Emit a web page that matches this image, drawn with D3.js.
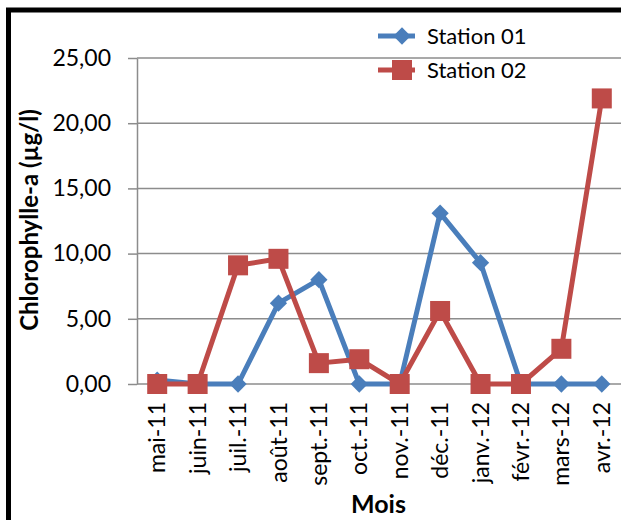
<!DOCTYPE html>
<html>
<head>
<meta charset="utf-8">
<script src="https://cdn.jsdelivr.net/npm/d3@7"></script>
<style>
  html, body { margin: 0; padding: 0; background: #fff; }
  svg { display: block; font-family: Lato, "Noto Sans", sans-serif; }
</style>
</head>
<body>
<svg id="chart" width="621" height="520"></svg>
<script>
// Monthly chlorophyll-a concentrations at two stations
const months = ["mai-11", "juin-11", "juil.-11", "août-11", "sept.-11", "oct.-11",
                "nov.-11", "déc.-11", "janv.-12", "févr.-12", "mars-12", "avr.-12"];
const station01 = [0.3, 0, 0, 6.2, 8.0, 0, 0, 13.1, 9.3, 0, 0, 0];
const station02 = [0, 0, 9.1, 9.6, 1.6, 1.9, 0, 5.6, 0, 0, 2.7, 21.9];
const yTicks = [0, 5, 10, 15, 20, 25];
const seriesNames = ["Station 01", "Station 02"];

const svg = d3.select("#chart");
const W = 621, H = 520;
const plotLeft = 137, plotTop = 58, plotRight = 622, plotBottom = 384;
const FONT = "Lato, 'Noto Sans', sans-serif";

// outer frame
svg.append("rect")
  .attr("x", 8.5).attr("y", 10).attr("width", W + 20).attr("height", H + 20)
  .attr("fill", "none").attr("stroke", "#000").attr("stroke-width", 5);

const x = d3.scaleBand().domain(months).range([plotLeft, plotRight]);
const y = d3.scaleLinear().domain([0, 25]).range([plotBottom, plotTop]);
const fmt = v => d3.format(".2f")(v).replace(".", ",");

// horizontal gridlines
svg.append("g").selectAll("line").data(yTicks.filter(t => t > 0)).join("line")
  .attr("x1", plotLeft).attr("x2", W)
  .attr("y1", d => y(d)).attr("y2", d => y(d))
  .attr("stroke", "#8c8c8c").attr("stroke-width", 1.5);

// y axis
const yAxis = svg.append("g").attr("transform", `translate(${plotLeft},0)`)
  .call(d3.axisLeft(y).tickValues(yTicks).tickFormat(fmt).tickSize(9).tickSizeOuter(0).tickPadding(17));
yAxis.select(".domain").attr("stroke", "#8c8c8c").attr("stroke-width", 1.5);
yAxis.selectAll(".tick line").attr("stroke", "#8c8c8c").attr("stroke-width", 1.5);
yAxis.selectAll(".tick text").attr("font-size", 23).attr("fill", "#000")
  .attr("font-family", FONT);

// x axis
const xAxis = svg.append("g").attr("transform", `translate(0,${plotBottom})`)
  .call(d3.axisBottom(x).tickSize(0).tickSizeOuter(0));
xAxis.select(".domain").attr("stroke", "#8c8c8c").attr("stroke-width", 1.5)
  .attr("d", `M${plotLeft},0H${W}`);
xAxis.selectAll(".tick text")
  .attr("font-size", 23).attr("fill", "#000")
  .attr("font-family", FONT)
  .attr("transform", "rotate(-90)")
  .attr("text-anchor", "end")
  .attr("x", -18).attr("y", 0).attr("dy", "0.35em");

// axis titles
svg.append("text")
  .attr("transform", `translate(38,${(plotTop + plotBottom) / 2 - 1}) rotate(-90)`)
  .attr("text-anchor", "middle").attr("font-weight", "bold").attr("font-size", 24)
  .text("Chlorophylle-a (µg/l)");
svg.append("text")
  .attr("x", (plotLeft + plotRight) / 2 - 1).attr("y", 513)
  .attr("text-anchor", "middle").attr("font-weight", "bold").attr("font-size", 25)
  .text("Mois");

const cx = m => x(m) + x.bandwidth() / 2;
const line = d3.line().x((d, i) => cx(months[i])).y(d => y(d));
const blue = "#4a7ebb", red = "#be4b48";
const diamond = d3.symbol().type(d3.symbolDiamond2).size(190);

function drawSeries(values, color, marker) {
  const g = svg.append("g");
  g.append("path").datum(values).attr("d", line)
    .attr("fill", "none").attr("stroke", color).attr("stroke-width", 5)
    .attr("stroke-linejoin", "round");
  if (marker === "diamond") {
    g.selectAll("path.m").data(values).join("path").attr("class", "m")
      .attr("d", diamond)
      .attr("transform", (d, i) => `translate(${cx(months[i])},${y(d)})`)
      .attr("fill", color);
  } else {
    g.selectAll("rect").data(values).join("rect")
      .attr("x", (d, i) => cx(months[i]) - 10).attr("y", d => y(d) - 10)
      .attr("width", 20).attr("height", 20).attr("fill", color);
  }
}
drawSeries(station01, blue, "diamond");
drawSeries(station02, red, "square");

// legend
const legend = svg.append("g");
[[blue, "diamond", 36], [red, "square", 70]].forEach(([color, marker, ly], i) => {
  legend.append("line").attr("x1", 378).attr("x2", 415).attr("y1", ly).attr("y2", ly)
    .attr("stroke", color).attr("stroke-width", 5);
  if (marker === "diamond") {
    legend.append("path").attr("d", diamond).attr("transform", `translate(402,${ly})`).attr("fill", color);
  } else {
    legend.append("rect").attr("x", 392).attr("y", ly - 10).attr("width", 20).attr("height", 20).attr("fill", color);
  }
  legend.append("text").attr("x", 427).attr("y", ly).attr("dy", "0.35em")
    .attr("font-size", 22).attr("fill", "#000").attr("font-family", FONT).text(seriesNames[i]);
});
</script>
</body>
</html>
